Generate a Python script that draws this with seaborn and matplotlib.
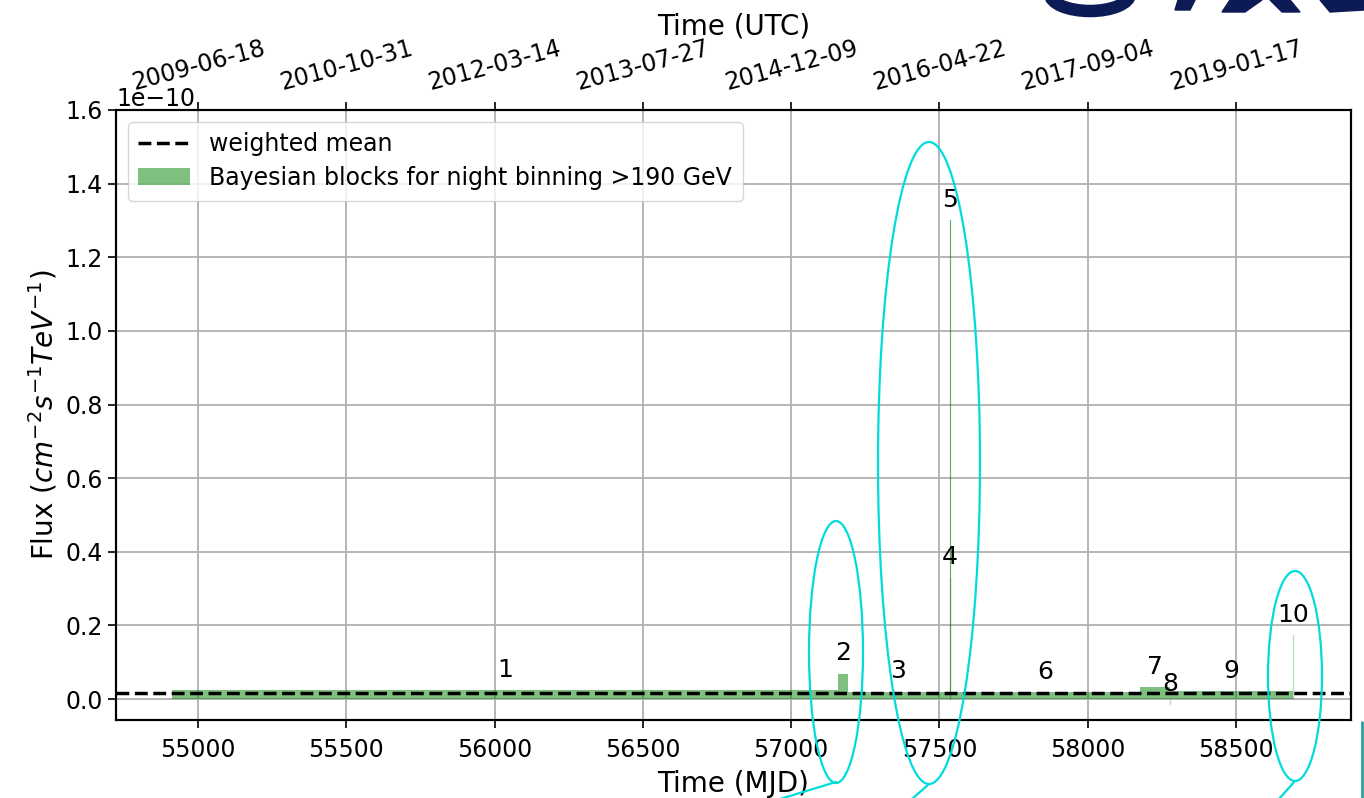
import matplotlib
matplotlib.use("Agg")
import matplotlib.pyplot as plt
from matplotlib.patches import Ellipse, Polygon
from matplotlib.lines import Line2D
import seaborn as sns
import numpy as np

# ---- data (MJD, flux in cm^-2 s^-1 TeV^-1) ----
block_start = [54912, 57159, 57190, 57534, 57536, 57538, 58176, 58276, 58278, 58692]
block_end   = [57159, 57190, 57534, 57536, 57538, 58176, 58276, 58278, 58692, 58694]
block_flux  = [0.024e-10, 0.069e-10, 0.020e-10, 0.33e-10, 1.30e-10,
               0.018e-10, 0.033e-10, -0.014e-10, 0.022e-10, 0.174e-10]
block_ids   = ["1", "2", "3", "4", "5", "6", "7", "8", "9", "10"]
weighted_mean = 0.017e-10

mjd_ticks = [55000, 55500, 56000, 56500, 57000, 57500, 58000, 58500]
utc_labels = ["2009-06-18", "2010-10-31", "2012-03-14", "2013-07-27",
              "2014-12-09", "2016-04-22", "2017-09-04", "2019-01-17"]

sns.set_theme(style="ticks")
plt.rcParams["font.family"] = ["DejaVu Sans"]
for k in ["text.color", "axes.labelcolor", "xtick.color", "ytick.color"]:
    plt.rcParams[k] = "black"

W, H = 1364, 798
fig = plt.figure(figsize=(W / 100, H / 100), dpi=100)
ax = fig.add_axes([116 / W, 1 - 720 / H, (1351 - 116) / W, (720 - 110) / H])

ax.grid(True, color="#b0b0b0", lw=1.3)
ax.set_axisbelow(True)

ax.axhline(weighted_mean, color="black", ls="--", lw=2.5, label="weighted mean", zorder=3)
starts = np.array(block_start)
widths = np.array(block_end) - starts
ax.bar(starts, block_flux, width=widths, align="edge", color="green", alpha=0.5,
       linewidth=0, label="Bayesian blocks for night binning >190 GeV", zorder=2)
# thin blocks outline so they remain visible
for s, w, f in zip(starts, widths, block_flux):
    if w <= 3:
        ax.plot([s + w / 2, s + w / 2], [0, f], color="green", alpha=0.25, lw=1.0, zorder=2)

for s, e, f, lab in zip(block_start, block_end, block_flux, block_ids):
    ax.text((s + e) / 2, f + 0.055e-10, lab, ha="center", va="center", fontsize=18, zorder=4)

ax.set_xlim(54723, 58888)
ax.set_ylim(-0.057e-10, 1.6e-10)
ax.set_xticks(mjd_ticks)
ax.set_yticks(np.arange(0, 1.61e-10, 0.2e-10))
ax.tick_params(labelsize=17, length=6, width=1.2, color="black")
ax.tick_params(axis="x", pad=7)
ax.yaxis.get_offset_text().set_fontsize(17)
for sp in ax.spines.values():
    sp.set_color("black")
    sp.set_linewidth(1.5)

ax.set_xlabel("Time (MJD)", fontsize=20, labelpad=6)
ax.set_ylabel(r"Flux ($cm^{-2}s^{-1}TeV^{-1}$)", fontsize=20)

leg = ax.legend(loc="upper left", fontsize=17, frameon=True, framealpha=0.8,
                handlelength=2.2, borderpad=0.45, labelspacing=0.4)
leg.get_frame().set_edgecolor("#cccccc")

ax2 = ax.twiny()
ax2.set_xlim(ax.get_xlim())
ax2.set_xticks(mjd_ticks)
ax2.set_xticklabels(utc_labels, rotation=15)
ax2.tick_params(labelsize=17, length=6, width=1.2, color="black", pad=5)
ax2.set_xlabel("Time (UTC)", fontsize=20, labelpad=1)
ax2.grid(False)
for sp in ax2.spines.values():
    sp.set_color("black")
    sp.set_linewidth(1.5)

# ---- cyan annotation ellipses (slide overlay) ----
cyan = "#00dcdc"
def fx(x):
    return x / W
def fy(y):
    return 1 - y / H
for cx, cy, w, h in [(836, 652, 54, 262), (929, 463, 102, 642), (1295, 676, 54, 210)]:
    fig.patches.append(Ellipse((fx(cx), fy(cy)), w / W, h / H, transform=fig.transFigure,
                               fill=False, edgecolor=cyan, lw=1.6, zorder=10))
for (x0, y0), (x1, y1) in [((836, 782), (780, 799)), ((929, 784), (912, 799)),
                           ((1295, 781), (1279, 799))]:
    fig.lines.append(Line2D([fx(x0), fx(x1)], [fy(y0), fy(y1)], transform=fig.transFigure,
                            color=cyan, lw=1.6, zorder=10))
fig.lines.append(Line2D([fx(1362), fx(1362)], [fy(722), fy(798)], transform=fig.transFigure,
                        color="#2aa0a0", lw=2, zorder=10))

# ---- partial logo at top right ----
navy = "#0c1a55"
fig.patches.append(Ellipse((fx(1090), fy(-6)), 80 / W, 34 / H, transform=fig.transFigure,
                           fill=False, edgecolor=navy, lw=9, zorder=10))
fig.patches.append(Polygon([(fx(1178), fy(0)), (fx(1195), fy(0)), (fx(1190), fy(10)), (fx(1175), fy(10))],
                           closed=True, transform=fig.transFigure, color=navy, zorder=10))
fig.patches.append(Polygon([(fx(1230), fy(0)), (fx(1262), fy(0)), (fx(1245), fy(12)), (fx(1222), fy(12))],
                           closed=True, transform=fig.transFigure, color=navy, zorder=10))
fig.patches.append(Polygon([(fx(1270), fy(0)), (fx(1290), fy(0)), (fx(1300), fy(12)), (fx(1282), fy(12))],
                           closed=True, transform=fig.transFigure, color=navy, zorder=10))
fig.patches.append(Polygon([(fx(1320), fy(0)), (fx(1364), fy(0)), (fx(1364), fy(10)), (fx(1330), fy(12))],
                           closed=True, transform=fig.transFigure, color=navy, zorder=10))

fig.savefig("out.png", dpi=100)
